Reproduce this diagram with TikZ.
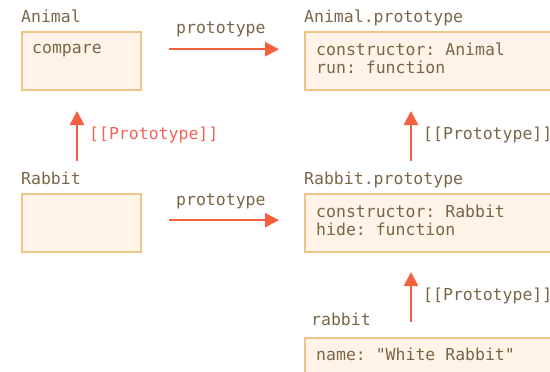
\documentclass[tikz,border=0pt]{standalone}
\usepackage{fontspec}
\setmonofont{DejaVu Sans Mono}
\usetikzlibrary{arrows.meta}
\definecolor{boxfill}{HTML}{FFF4E7}
\definecolor{boxline}{HTML}{EEC48B}
\definecolor{txt}{HTML}{7A6549}
\definecolor{arr}{HTML}{F2603F}
\definecolor{redlbl}{HTML}{EE6656}
\tikzset{
  objbox/.style={draw=boxline, fill=boxfill, line width=2.4pt, anchor=north west, inner sep=0pt},
  lbl/.style={anchor=base west, inner sep=0pt, text=txt, font=\ttfamily\fontsize{16.5}{18}\selectfont},
  arrowline/.style={draw=arr, line width=2.5pt, -{Triangle[length=14pt,width=14pt]}},
}
\begin{document}
\begin{tikzpicture}[x=1pt,y=-1pt]
\useasboundingbox (0,0) rectangle (550,372);
\clip (0,0) rectangle (550,372);
% boxes
\node[objbox, minimum width=119pt, minimum height=58pt] (animal) at (21,31) {};
\node[objbox, minimum width=270pt, minimum height=58pt] (aproto) at (304,31) {};
\node[objbox, minimum width=119pt, minimum height=58pt] (rabbitbox) at (21,193) {};
\node[objbox, minimum width=270pt, minimum height=58pt] (rproto) at (304,193) {};
\node[objbox, minimum width=270pt, minimum height=40pt] (rabbitobj) at (304,337) {};
% titles
\node[lbl] (tanimal) at (21,22) {Animal};
\node[lbl] (taproto) at (304,22) {Animal.prototype};
\node[lbl] (trabbit) at (21,184) {Rabbit};
\node[lbl] (trproto) at (304,184) {Rabbit.prototype};
\node[lbl] (trabobj) at (311,325) {rabbit};
% contents
\node[lbl] (c1) at (32,53) {compare};
\node[lbl] (c2) at (316,55) {constructor: Animal};
\node[lbl] (c3) at (316,73) {run: function};
\node[lbl] (c4) at (316,217) {constructor: Rabbit};
\node[lbl] (c5) at (316,235) {hide: function};
\node[lbl] (c6) at (316,360) {name: "White Rabbit"};
% arrow labels
\node[lbl] (p1) at (176,33) {prototype};
\node[lbl] (p2) at (176,205) {prototype};
\node[lbl, text=redlbl] (pp1) at (89,139) {[[Prototype]]};
\node[lbl] (pp2) at (423,139) {[[Prototype]]};
\node[lbl] (pp3) at (423,300) {[[Prototype]]};
% connectors
\draw[arrowline] ([xshift=27pt,yshift=12pt]animal.east) -- ([xshift=-25pt,yshift=12pt]aproto.west);
\draw[arrowline] ([xshift=27pt,yshift=3pt]rabbitbox.east) -- ([xshift=-25pt,yshift=3pt]rproto.west);
\coordinate (v1s) at (77,161);
\coordinate (v2s) at (411,161);
\coordinate (v3s) at (411,322);
\draw[arrowline] (v1s) -- (v1s |- 0,111);
\draw[arrowline] (v2s) -- (v2s |- 0,111);
\draw[arrowline] (v3s) -- (v3s |- 0,272);
\end{tikzpicture}
\end{document}
